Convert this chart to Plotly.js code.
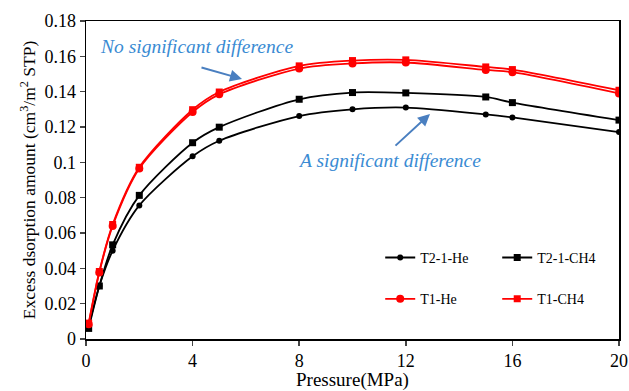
<!DOCTYPE html>
<html><head><meta charset="utf-8">
<script src="https://cdn.plot.ly/plotly-3.0.1.min.js"></script>
<style>html,body{margin:0;padding:0;background:#fff}#chart{width:629px;height:391px}</style>
</head><body><div id="chart"></div>
<script>
const pressure = [0.1, 0.5, 1, 2, 4, 5, 8, 10, 12, 15, 16, 20];
const t21He  = [0.007, 0.030, 0.050, 0.0756, 0.1034, 0.1122, 0.1262, 0.1300, 0.1310, 0.1271, 0.1254, 0.1171];
const t21CH4 = [0.006, 0.030, 0.0533, 0.0813, 0.1111, 0.1199, 0.1357, 0.1395, 0.1393, 0.1370, 0.1338, 0.1239];
const t1He   = [0.0084, 0.0377, 0.0640, 0.0965, 0.1285, 0.1385, 0.1531, 0.1560, 0.1565, 0.1523, 0.1510, 0.1390];
const t1CH4  = [0.0090, 0.0382, 0.0648, 0.0972, 0.1298, 0.1398, 0.1546, 0.1576, 0.1580, 0.1540, 0.1525, 0.1408];
const xTicks = [0, 4, 8, 12, 16, 20];
const yTicks = [0, 0.02, 0.04, 0.06, 0.08, 0.1, 0.12, 0.14, 0.16, 0.18];
const seriesNames = ['T2-1-He', 'T2-1-CH4', 'T1-He', 'T1-CH4'];
const xTitle = 'Pressure(MPa)';
const yTitle = 'Excess dsorption amount (cm<sup>3</sup>/m<sup>2</sup> STP)';

const serif = '"Liberation Serif", "Times New Roman", serif';
function tr(y, name, color, symbol, size, legend) {
  return {x: pressure, y: y, name: name, type: 'scatter', mode: 'lines+markers',
    line: {color: color, width: 1.8, shape: 'spline', smoothing: 0.8},
    marker: {color: color, symbol: symbol, size: size}, legend: legend};
}
const data = [
  tr(t21He, seriesNames[0], '#000000', 'circle', 6, 'legend'),
  tr(t21CH4, seriesNames[1], '#000000', 'square', 7, 'legend'),
  tr(t1He, seriesNames[2], '#ff0000', 'circle', 8, 'legend2'),
  tr(t1CH4, seriesNames[3], '#ff0000', 'square', 7, 'legend2')
];
const legBase = {orientation: 'h', xanchor: 'left', yanchor: 'middle', bgcolor: 'rgba(0,0,0,0)',
  font: {family: serif, size: 14, color: '#000'}, entrywidth: 72, itemwidth: 30};
const layout = {
  width: 629, height: 391,
  margin: {l: 86, r: 10, t: 21, b: 52},
  paper_bgcolor: '#fff', plot_bgcolor: '#fff',
  font: {family: serif, color: '#000'},
  xaxis: {range: [0, 20], tickvals: xTicks, ticks: 'outside', ticklen: 5, tickwidth: 1.5,
    showgrid: false, zeroline: false, showline: true, linecolor: '#000', linewidth: 1.5, mirror: true,
    tickfont: {family: serif, size: 18, color: '#000'}},
  yaxis: {range: [0, 0.18], tickvals: yTicks, ticks: 'outside', ticklen: 5, tickwidth: 1.5,
    showgrid: false, zeroline: false, showline: true, linecolor: '#000', linewidth: 1.5, mirror: true,
    tickfont: {family: serif, size: 18, color: '#000'},
    title: {text: yTitle, font: {family: serif, size: 17.5, color: '#000'}, standoff: 4}},
  legend: Object.assign({}, legBase, {x: 0.552, y: 0.255}),
  legend2: Object.assign({}, legBase, {x: 0.552, y: 0.125}),
  annotations: [
    {xref: 'paper', yref: 'paper', x: 0.5, y: (339-380)/318, xanchor: 'center', yanchor: 'middle',
     text: xTitle, showarrow: false, font: {family: serif, size: 19, color: '#000'}},
    {xref: 'paper', yref: 'paper', x: (98-86)/533, y: (339-47)/318, xanchor: 'left', yanchor: 'middle',
     text: '<i>No significant difference</i>', showarrow: false,
     font: {family: serif, size: 19.5, color: '#3a8bd3'}},
    {xref: 'paper', yref: 'paper', x: (242-86)/533, y: (339-79)/318, ax: -42, ay: -12,
     text: '', showarrow: true, arrowhead: 2, arrowsize: 1.2, arrowwidth: 2, arrowcolor: '#4a7fc0'},
    {xref: 'paper', yref: 'paper', x: (296-86)/533, y: (339-160)/318, xanchor: 'left', yanchor: 'middle',
     text: '<i>A significant difference</i>', showarrow: false,
     font: {family: serif, size: 19.5, color: '#3a8bd3'}},
    {xref: 'paper', yref: 'paper', x: (430-86)/533, y: (339-114)/318, ax: -36, ay: 33,
     text: '', showarrow: true, arrowhead: 2, arrowsize: 1.2, arrowwidth: 2, arrowcolor: '#4a7fc0'}
  ],
  showlegend: true
};
Plotly.newPlot('chart', data, layout, {displayModeBar: false, staticPlot: true});
</script></body></html>
